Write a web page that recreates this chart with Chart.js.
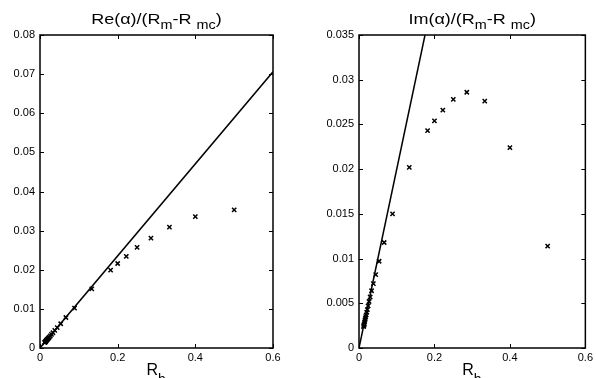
<!DOCTYPE html>
<html>
<head>
<meta charset="utf-8">
<script src="https://cdn.jsdelivr.net/npm/chart.js@4/dist/chart.umd.min.js"></script>
<style>
  body { margin: 0; background: #fff; }
  .box { position: absolute; top: 0; width: 298px; height: 378px; }
</style>
</head>
<body>
<div class="box" style="left:0"><canvas id="re" width="298" height="378"></canvas></div>
<div class="box" style="left:298px"><canvas id="im" width="298" height="378"></canvas></div>
<script>
"use strict";
// R_h values (shared by both panels)
var rh = [0.5, 0.4, 0.3333, 0.2857, 0.25, 0.2222, 0.2, 0.1818, 0.1333, 0.0889, 0.0667,
          0.0533, 0.0444, 0.0381, 0.0333, 0.0296, 0.0267, 0.0242, 0.0222, 0.0205, 0.019,
          0.0178, 0.0167, 0.0157, 0.0148, 0.014, 0.0133, 0.0127, 0.0121];
var reVals = [0.0353, 0.0336, 0.0309, 0.0281, 0.0257, 0.0234, 0.0216, 0.0199, 0.0151, 0.0102, 0.0078,
              0.0062, 0.0052, 0.0045, 0.0039, 0.0035, 0.0031, 0.0028, 0.0026, 0.0024, 0.0022,
              0.0021, 0.0020, 0.0018, 0.0017, 0.0016, 0.0016, 0.0015, 0.0014];
var imVals = [0.0114, 0.0224, 0.0276, 0.0286, 0.0278, 0.0266, 0.0254, 0.0243, 0.0202, 0.0150, 0.0118,
              0.0097, 0.0082, 0.0072, 0.0064, 0.0057, 0.0052, 0.0047, 0.0043, 0.0040, 0.0037,
              0.0035, 0.0033, 0.0031, 0.0029, 0.0027, 0.0026, 0.0025, 0.0024];
// asymptote lines (end points)
var reLineX = [0, 0.6],   reLineY = [0, 0.0706];
var imLineX = [0, 0.175], imLineY = [0, 0.035];
// tick values
var rhTicks = [0, 0.2, 0.4, 0.6];
var reTicks = [0, 0.01, 0.02, 0.03, 0.04, 0.05, 0.06, 0.07, 0.08];
var imTicks = [0, 0.005, 0.01, 0.015, 0.02, 0.025, 0.03, 0.035];

var FONT = "'Liberation Sans', Arial, sans-serif";

function pts(xs, ys) {
    return xs.map(function(x, i){ return {x: x, y: ys[i]}; });
}

// draws box, inward ticks, title with subscripts and the x label
function decor(titleStart) {
    return {
        id: 'decor',
        afterDraw: function(chart) {
            var ctx = chart.ctx, a = chart.chartArea;
            var sx = chart.scales.x, sy = chart.scales.y;
            ctx.save();
            ctx.strokeStyle = '#000';
            ctx.lineWidth = 1.5;
            ctx.strokeRect(a.left, a.top, a.right - a.left, a.bottom - a.top);
            ctx.lineWidth = 1;
            ctx.beginPath();
            sx.ticks.forEach(function(t){
                var px = Math.round(sx.getPixelForValue(t.value)) + 0.5;
                ctx.moveTo(px, a.bottom); ctx.lineTo(px, a.bottom - 4);
                ctx.moveTo(px, a.top); ctx.lineTo(px, a.top + 4);
            });
            sy.ticks.forEach(function(t){
                var py = Math.round(sy.getPixelForValue(t.value)) + 0.5;
                ctx.moveTo(a.left, py); ctx.lineTo(a.left + 4, py);
                ctx.moveTo(a.right, py); ctx.lineTo(a.right - 4, py);
            });
            ctx.stroke();

            // title, slightly stretched horizontally like the original
            var stretch = 1.2;
            var parts = [[titleStart + '(\u03b1)/(R', 0], ['m', 1], ['-R ', 0], ['mc', 1], [')', 0]];
            var big = '15px ' + FONT, small = '12px ' + FONT;
            var w = 0;
            parts.forEach(function(p){ ctx.font = p[1] ? small : big; w += ctx.measureText(p[0]).width; });
            var cx = (a.left + a.right) / 2;
            ctx.fillStyle = '#000';
            ctx.textBaseline = 'alphabetic';
            ctx.textAlign = 'left';
            ctx.save();
            ctx.translate(cx, 0);
            ctx.scale(stretch, 1);
            var x = -w / 2;
            parts.forEach(function(p){
                ctx.font = p[1] ? small : big;
                ctx.fillText(p[0], x, p[1] ? 29 : 24);
                x += ctx.measureText(p[0]).width;
            });
            ctx.restore();

            // x label R_h
            ctx.font = '16px ' + FONT;
            var lx = cx - 10;
            ctx.fillText('R', lx, 375);
            var rw = ctx.measureText('R').width;
            ctx.font = '14px ' + FONT;
            ctx.fillText('h', lx + rw, 384);
            ctx.restore();
        }
    };
}

function makeChart(id, ys, lx, ly, yTicks, yMax, yWidth, padRight, titleStart) {
    var ctx = document.getElementById(id).getContext('2d');
    return new Chart(ctx, {
        type: 'scatter',
        data: {
            datasets: [
                {
                    data: pts(rh, ys),
                    pointStyle: 'crossRot',
                    pointRadius: 3,
                    borderColor: '#000',
                    borderWidth: 1.5,
                    showLine: false
                },
                {
                    data: pts(lx, ly),
                    showLine: true,
                    pointRadius: 0,
                    borderColor: '#000',
                    borderWidth: 1.5,
                    clip: 0
                }
            ]
        },
        options: {
            responsive: false,
            animation: false,
            layout: { padding: { top: 35, right: padRight, bottom: 0, left: 0 } },
            plugins: { legend: { display: false }, tooltip: { enabled: false }, title: { display: false } },
            scales: {
                x: {
                    type: 'linear', min: 0, max: 0.6,
                    grid: { display: false, drawTicks: false }, border: { display: false },
                    afterBuildTicks: function(s){ s.ticks = rhTicks.map(function(v){ return {value: v}; }); },
                    afterFit: function(s){ s.height = 30; },
                    ticks: { color: '#000', padding: 3, font: { size: 11, family: FONT },
                             maxRotation: 0, callback: function(v){ return String(v); } }
                },
                y: {
                    type: 'linear', min: 0, max: yMax,
                    grid: { display: false, drawTicks: false }, border: { display: false },
                    afterBuildTicks: function(s){ s.ticks = yTicks.map(function(v){ return {value: v}; }); },
                    afterFit: function(s){ s.width = yWidth; },
                    ticks: { color: '#000', padding: 5, font: { size: 11, family: FONT },
                             callback: function(v){ return String(v); } }
                }
            }
        },
        plugins: [decor(titleStart)]
    });
}

makeChart('re', reVals, reLineX, reLineY, reTicks, 0.08, 40, 25, 'Re');
makeChart('im', imVals, imLineX, imLineY, imTicks, 0.035, 61, 3, 'Im');
</script>
</body>
</html>
